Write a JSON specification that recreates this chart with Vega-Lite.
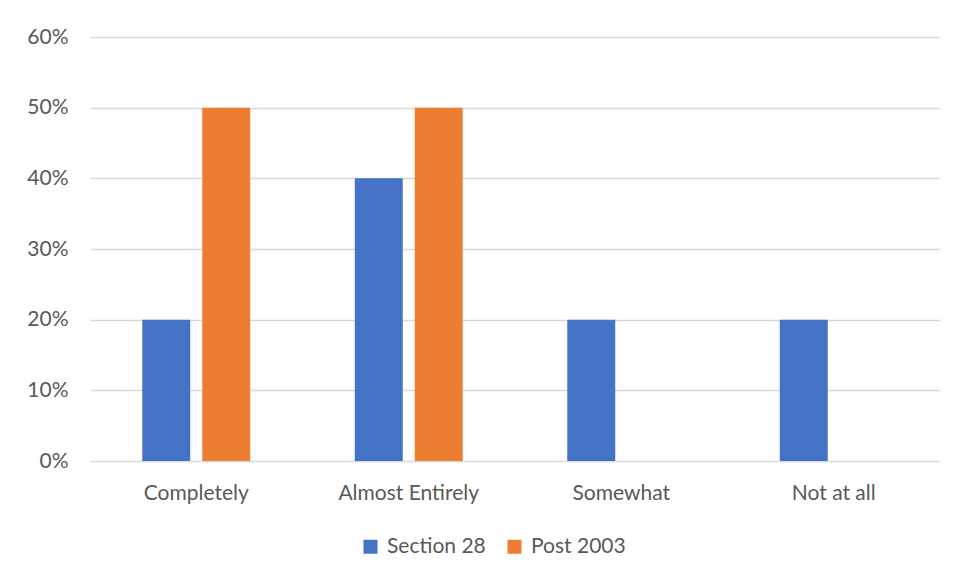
{
  "$schema": "https://vega.github.io/schema/vega-lite/v6.json",
  "width": 850,
  "height": 424,
  "autosize": "none",
  "padding": {"left": 90, "top": 37, "right": 17, "bottom": 118},
  "background": "white",
  "data": {
    "values": [
      {"category": "Completely", "series": "Section 28", "value": 0.2},
      {"category": "Completely", "series": "Post 2003", "value": 0.5},
      {"category": "Almost Entirely", "series": "Section 28", "value": 0.4},
      {"category": "Almost Entirely", "series": "Post 2003", "value": 0.5},
      {"category": "Somewhat", "series": "Section 28", "value": 0.2},
      {"category": "Somewhat", "series": "Post 2003", "value": 0},
      {"category": "Not at all", "series": "Section 28", "value": 0.2},
      {"category": "Not at all", "series": "Post 2003", "value": 0}
    ]
  },
  "mark": {"type": "bar"},
  "encoding": {
    "x": {
      "field": "category",
      "type": "nominal",
      "sort": ["Completely", "Almost Entirely", "Somewhat", "Not at all"],
      "scale": {"paddingInner": 0.492, "paddingOuter": 0.246},
      "axis": {"title": null, "labelAngle": 0, "ticks": false, "domain": false, "labelPadding": 21, "labelFontSize": 21, "labelColor": "#595959", "labelFont": "Lato", "labelOverlap": false}
    },
    "xOffset": {
      "field": "series",
      "type": "nominal",
      "sort": ["Section 28", "Post 2003"],
      "scale": {"paddingInner": 0.2, "paddingOuter": 0}
    },
    "y": {
      "field": "value",
      "type": "quantitative",
      "scale": {"domain": [0, 0.6]},
      "axis": {"title": null, "format": ".0%", "values": [0, 0.1, 0.2, 0.3, 0.4, 0.5, 0.6], "labelOverlap": false, "ticks": false, "domain": false, "labelPadding": 22, "labelFontSize": 21, "labelColor": "#595959", "labelFont": "Lato", "gridColor": "#d9d9d9", "gridWidth": 1.5}
    },
    "color": {
      "field": "series",
      "type": "nominal",
      "sort": ["Section 28", "Post 2003"],
      "scale": {"domain": ["Section 28", "Post 2003"], "range": ["#4472c4", "#ed7d31"]},
      "legend": {"title": null, "orient": "none", "direction": "horizontal", "legendX": 270, "legendY": 499, "symbolType": "square", "symbolSize": 196, "symbolStrokeWidth": 0, "labelFontSize": 21, "labelColor": "#595959", "labelFont": "Lato", "columnPadding": 18, "labelOffset": 6}
    }
  },
  "config": {"view": {"stroke": null}}
}
